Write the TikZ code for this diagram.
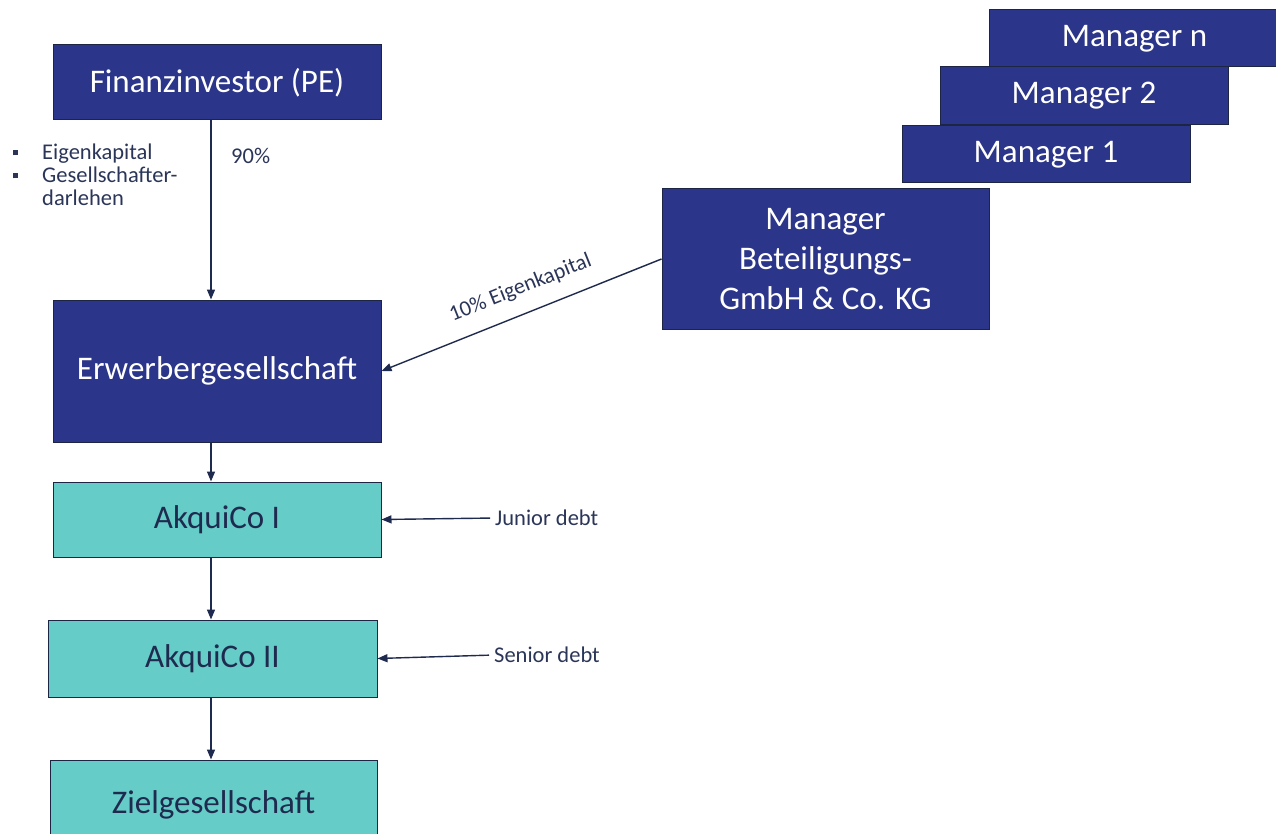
\documentclass[tikz,border=0pt]{standalone}
\usepackage{fontspec}
\setmainfont{Carlito}
\usetikzlibrary{arrows.meta,calc}
\definecolor{navy}{HTML}{2B3589}
\definecolor{frame}{HTML}{1C2544}
\definecolor{tealbox}{HTML}{66CCC7}
\definecolor{ink}{HTML}{1F2A4F}
\definecolor{note}{HTML}{2A3558}
\tikzset{
  box/.style={draw=frame, line width=1pt, fill=navy, text=white, font=\fontsize{33}{40}\selectfont, align=center, inner sep=0pt},
  tbox/.style={box, fill=tealbox, text=ink},
  flow/.style={draw=ink, line width=1.4pt, -{Triangle[length=10pt,width=8pt]}},
  lab/.style={text=note, font=\fontsize{22.5}{23}\selectfont, inner sep=0pt},
}
\newcommand{\blt}{\makebox[29pt][l]{\rule[4.5pt]{5pt}{5pt}}}

\begin{document}
\begin{tikzpicture}[x=1pt,y=-1pt]
  \useasboundingbox (0,0) rectangle (1276,834);
  \coordinate (axis) at (211,0);

  % left column
  \node[box, minimum width=328pt, minimum height=75pt] (fin) at (217,82.5) {Finanzinvestor (PE)};
  \node[box, minimum width=328pt, minimum height=142pt] (erw) at (217,371) {Erwerbergesellschaft};
  \node[tbox, minimum width=328pt, minimum height=75pt] (akq1) at (217,519.5) {AkquiCo I};
  \node[tbox, minimum width=329pt, minimum height=77pt] (akq2) at (212.5,658.5) {AkquiCo II};
  \node[tbox, minimum width=327pt, minimum height=90pt] (ziel) at (213.5,805) {Zielgesellschaft};

  % managers
  \node[box, minimum width=291pt, minimum height=57pt] (mn) at (1134.5,38.5) {Manager n};
  \node[box, minimum width=288pt, minimum height=58pt] (m2) at (1084,96) {Manager 2};
  \node[box, minimum width=288pt, minimum height=57pt] (m1) at (1046,154.5) {Manager 1};
  \node[box, minimum width=327pt, minimum height=140pt] (mbg) at (825.5,259) {Manager\\Beteiligungs-\\GmbH \& Co. KG};

  % notes
  \node[lab, anchor=north west, align=left] (kap) at (13,144) {\blt Eigenkapital\\\blt Gesellschafter-\\\hspace*{29pt}darlehen};
  \node[lab, anchor=west] (pct) at (231,156) {90\%};
  \node[lab, anchor=west] (jun) at (495,518) {Junior debt};
  \node[lab, anchor=west] (sen) at (494,655) {Senior debt};

  \draw[flow] (fin.south -| axis) -- (erw.north -| axis);
  \draw[flow] (erw.south -| axis) -- (akq1.north -| axis);
  \draw[flow] (akq1.south -| axis) -- (akq2.north -| axis);
  \draw[flow] (akq2.south -| axis) -- (ziel.north -| axis);
  \draw[flow] (mbg.west) -- (erw.east)
    node[lab, pos=0.47, sloped, above=15pt, font=\fontsize{22}{22}\selectfont] (ek) {10\% Eigenkapital};
  \draw[flow, shorten <=5pt] (jun.west) -- (akq1.east);
  \draw[flow, shorten <=5pt] (sen.west) -- (akq2.east);
\end{tikzpicture}
\end{document}
